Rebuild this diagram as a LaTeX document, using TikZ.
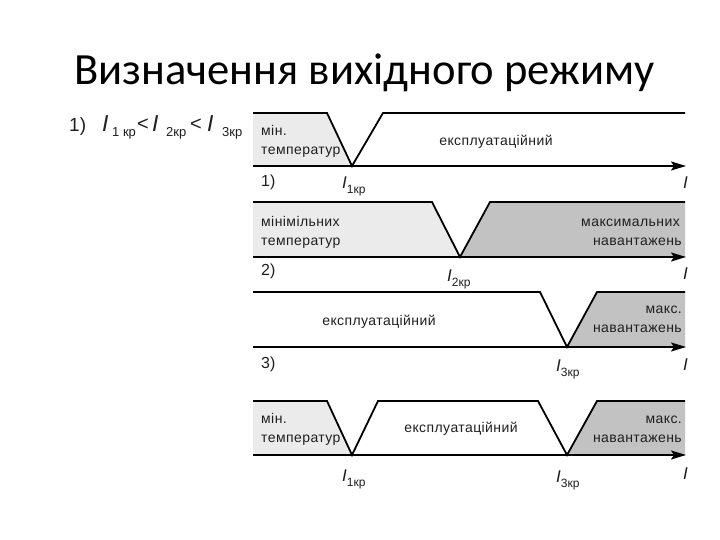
\documentclass[tikz,border=0pt]{standalone}
\usepackage{fontspec}
\setmainfont{Liberation Sans}
\newfontfamily\titlefont{Carlito}
\newfontfamily\spacedfont[LetterSpace=3]{Liberation Sans}
\usetikzlibrary{arrows.meta}
\definecolor{lightg}{gray}{0.92}
\definecolor{darkg}{gray}{0.76}
\definecolor{ink}{gray}{0.12}
\tikzset{
  lbl/.style={font=\spacedfont\fontsize{14}{15}\selectfont, inner sep=0pt, text=ink},
  wave/.style={line width=1.8pt, line join=miter},
  axisline/.style={line width=1.8pt, -{Stealth[length=15pt,width=9pt,inset=3pt]}},
  ilbl/.style={font=\fontsize{17}{18}\selectfont, inner sep=0pt, anchor=base west, text=ink},
  num/.style={font=\fontsize{16}{17}\selectfont, inner sep=0pt, anchor=base west, text=ink},
  fI/.style={font=\fontsize{23}{23}\selectfont\itshape, inner sep=0pt, anchor=base west, text=ink},
  fsub/.style={font=\fontsize{13}{13}\selectfont, inner sep=0pt, anchor=base west, text=ink},
  flt/.style={font=\fontsize{20}{20}\selectfont, inner sep=0pt, anchor=base west, text=ink},
}
\newcommand{\crit}[1]{\textit{I}\raisebox{-5pt}{\fontsize{12}{12}\selectfont #1}}
\begin{document}
\begin{tikzpicture}[x=1pt,y=-1pt]
\useasboundingbox (0,0) rectangle (720,540);
\fill[white] (0,0) rectangle (720,540);
% title
\node[font=\titlefont\fontsize{44.6}{46}\selectfont, anchor=base west, inner sep=0pt] (title) at (74,85) {Визначення вихідного режиму};
% left formula
\node[num, font=\fontsize{19}{19}\selectfont] (n0) at (69,132) {1)};
\begin{scope}
\clip (60,100) rectangle (245,150);
\node[fI] (f1) at (102,132) {I};
\node[fsub] (f2) at (112,137) {1 кр};
\node[flt] (f3) at (137,131) {<};
\node[fI] (f4) at (152,132) {I};
\node[fsub] (f5) at (166,137) {2кр};
\node[flt] (f6) at (190,131) {<};
\node[fI] (f7) at (207,132) {I};
\node[fsub] (f8) at (222,137) {3кр};
\end{scope}

% ---------- panel 1
\fill[lightg] (253,113) -- (327,113) -- (352,166) -- (253,166) -- cycle;
\draw[wave] (253,113) -- (327,113) -- (352,166) -- (383,113) -- (685,113);
\coordinate (a1s) at (253,166); \coordinate (a1e) at (686,166);
\draw[axisline] (a1s) -- (a1e);
\node[lbl, anchor=base west] (p1a) at (261,136) {мін.};
\node[lbl, anchor=base west] (p1b) at (261,155) {температур};
\node[lbl, anchor=base] (p1c) at (496,146) {експлуатаційний};
\node[num] (p1n) at (261,187) {1)};
\node[ilbl] (p1i) at (342,189) {\crit{1кр}};
\node[ilbl] (p1e) at (683,189) {\textit{I}};

% ---------- panel 2
\fill[lightg] (253,202) -- (432,202) -- (460,257) -- (253,257) -- cycle;
\fill[darkg] (490,202) -- (685,202) -- (685,257) -- (460,257) -- cycle;
\draw[wave] (253,202) -- (432,202) -- (460,257) -- (490,202) -- (685,202);
\coordinate (a2s) at (253,257); \coordinate (a2e) at (686,257);
\draw[axisline] (a2s) -- (a2e);
\node[lbl, anchor=base west] (p2a) at (261,226) {мінімільних};
\node[lbl, anchor=base west] (p2b) at (261,245) {температур};
\node[lbl, anchor=base east] (p2c) at (680,226) {максимальних};
\node[lbl, anchor=base east] (p2d) at (682,245) {навантажень};
\node[num] (p2n) at (261,275) {2)};
\node[ilbl] (p2i) at (447,281) {\crit{2кр}};
\node[ilbl] (p2e) at (683,279) {\textit{I}};

% ---------- panel 3
\fill[darkg] (597,292) -- (685,292) -- (685,347) -- (567,347) -- cycle;
\draw[wave] (253,292) -- (540,292) -- (567,347) -- (597,292) -- (685,292);
\coordinate (a3s) at (253,347); \coordinate (a3e) at (686,347);
\draw[axisline] (a3s) -- (a3e);
\node[lbl, anchor=base] (p3c) at (379,325) {експлуатаційний};
\node[lbl, anchor=base east] (p3a) at (682,313) {макс.};
\node[lbl, anchor=base east] (p3b) at (682,332) {навантажень};
\node[num] (p3n) at (261,368) {3)};
\node[ilbl] (p3i) at (556,371) {\crit{3кр}};
\node[ilbl] (p3e) at (683,370) {\textit{I}};

% ---------- panel 4
\fill[lightg] (253,401) -- (327,401) -- (352,455) -- (253,455) -- cycle;
\fill[darkg] (597,401) -- (685,401) -- (685,455) -- (567,455) -- cycle;
\draw[wave] (253,401) -- (327,401) -- (352,455) -- (378,401) -- (538,401) -- (567,455) -- (597,401) -- (685,401);
\coordinate (a4s) at (253,455); \coordinate (a4e) at (686,455);
\draw[axisline] (a4s) -- (a4e);
\node[lbl, anchor=base west] (p4a) at (261,423) {мін.};
\node[lbl, anchor=base west] (p4b) at (261,442) {температур};
\node[lbl, anchor=base] (p4c) at (461,432) {експлуатаційний};
\node[lbl, anchor=base east] (p4d) at (682,423) {макс.};
\node[lbl, anchor=base east] (p4e) at (682,442) {навантажень};
\node[ilbl] (p4i) at (342,481) {\crit{1кр}};
\node[ilbl] (p4j) at (556,482) {\crit{3кр}};
\node[ilbl] (p4k) at (683,479) {\textit{I}};
\end{tikzpicture}
\end{document}
